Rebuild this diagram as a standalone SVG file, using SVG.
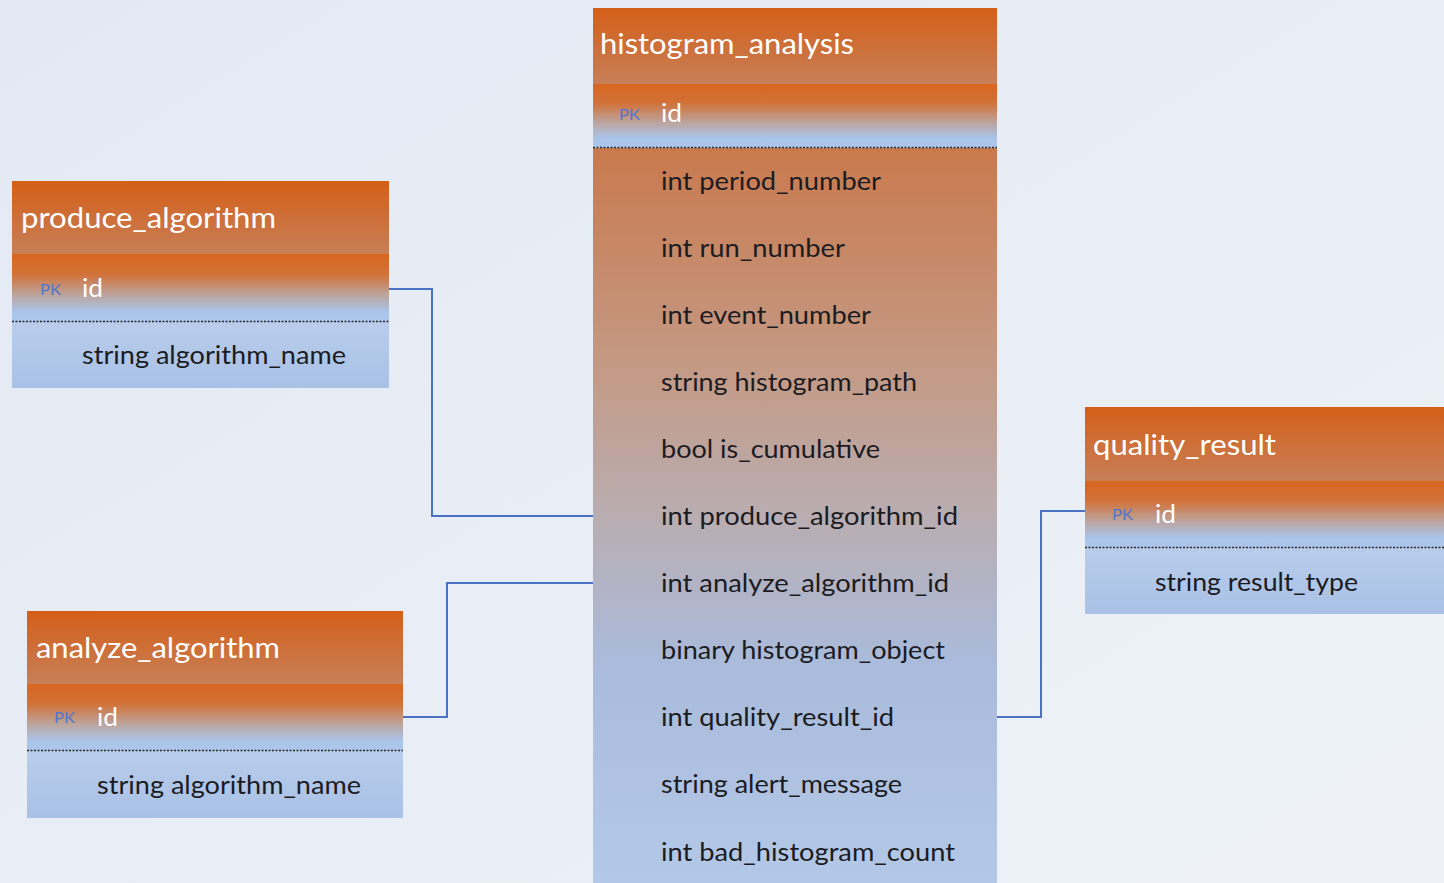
<svg xmlns="http://www.w3.org/2000/svg" width="1444" height="883" viewBox="0 0 1444 883">
  <defs>
    <linearGradient id="bg" x1="0" y1="0" x2="1" y2="1">
      <stop offset="0" stop-color="#e3e9f3"/>
      <stop offset="1" stop-color="#eef2f8"/>
    </linearGradient>
    <linearGradient id="head" x1="0" y1="0" x2="0" y2="1">
      <stop offset="0" stop-color="#d45f18"/>
      <stop offset="1" stop-color="#c77f58"/>
    </linearGradient>
    <linearGradient id="pk" x1="0" y1="0" x2="0" y2="1">
      <stop offset="0" stop-color="#d9661f"/>
      <stop offset="0.3" stop-color="#d17239"/>
      <stop offset="0.62" stop-color="#bba7a4"/>
      <stop offset="0.85" stop-color="#aac4ea"/>
      <stop offset="1" stop-color="#adc7ec"/>
    </linearGradient>
    <linearGradient id="rows" x1="0" y1="0" x2="0" y2="1">
      <stop offset="0" stop-color="#b9cdeb"/>
      <stop offset="1" stop-color="#a9c1e6"/>
    </linearGradient>
    <linearGradient id="mainBody" x1="0" y1="0" x2="0" y2="1">
      <stop offset="0" stop-color="#c9794d"/>
      <stop offset="0.3" stop-color="#c49a85"/>
      <stop offset="0.5" stop-color="#b9adb1"/>
      <stop offset="0.7" stop-color="#aabbdb"/>
      <stop offset="1" stop-color="#b3c8e7"/>
    </linearGradient>
    <style>
      .title { font-family: Lato, "Open Sans", "Liberation Sans", sans-serif; font-size: 29px; fill: #ffffff; }
      .pk { font-family: Lato, "Liberation Sans", sans-serif; font-size: 15px; fill: #4f76d0; }
      .id { font-family: Lato, "Liberation Sans", sans-serif; font-size: 25px; fill: #ffffff; }
      .field { font-family: Lato, "Open Sans", "Liberation Sans", sans-serif; font-size: 25px; fill: #1b1b22; }
      .sep { stroke: #2a2a2a; stroke-width: 1.5; stroke-dasharray: 2 1.5; }
      .link { fill: none; stroke: #4a72c4; stroke-width: 2; }
    </style>
  </defs>

  <rect width="1444" height="883" fill="url(#bg)"/>

  <!-- relationship lines -->
  <g id="connectors">
    <polyline class="link" points="389,289 432,289 432,516 593,516"/>
    <polyline class="link" points="403,717 447,717 447,583 593,583"/>
    <polyline class="link" points="997,717 1041,717 1041,511 1085,511"/>
  </g>

  <!-- main table -->
  <g id="histogram_analysis">
    <rect x="593" y="148" width="404" height="735" fill="url(#mainBody)"/>
    <rect x="593" y="8" width="404" height="76" fill="url(#head)"/>
    <rect x="593" y="84" width="404" height="64" fill="url(#pk)"/>
    <line class="sep" x1="593" y1="147.5" x2="997" y2="147.5"/>
    <text class="title" x="600" y="54" textLength="254" lengthAdjust="spacingAndGlyphs">histogram_analysis</text>
    <text class="pk" x="619" y="120" textLength="21" lengthAdjust="spacingAndGlyphs">PK</text>
    <text class="id" x="661" y="122" textLength="21" lengthAdjust="spacingAndGlyphs">id</text>
    <text class="field" x="661" y="190" textLength="220" lengthAdjust="spacingAndGlyphs">int period_number</text>
    <text class="field" x="661" y="257" textLength="184" lengthAdjust="spacingAndGlyphs">int run_number</text>
    <text class="field" x="661" y="324" textLength="210" lengthAdjust="spacingAndGlyphs">int event_number</text>
    <text class="field" x="661" y="391" textLength="256" lengthAdjust="spacingAndGlyphs">string histogram_path</text>
    <text class="field" x="661" y="458" textLength="219" lengthAdjust="spacingAndGlyphs">bool is_cumulative</text>
    <text class="field" x="661" y="525" textLength="297" lengthAdjust="spacingAndGlyphs">int produce_algorithm_id</text>
    <text class="field" x="661" y="592" textLength="288" lengthAdjust="spacingAndGlyphs">int analyze_algorithm_id</text>
    <text class="field" x="661" y="659" textLength="284" lengthAdjust="spacingAndGlyphs">binary histogram_object</text>
    <text class="field" x="661" y="726" textLength="233" lengthAdjust="spacingAndGlyphs">int quality_result_id</text>
    <text class="field" x="661" y="793" textLength="241" lengthAdjust="spacingAndGlyphs">string alert_message</text>
    <text class="field" x="661" y="861" textLength="294" lengthAdjust="spacingAndGlyphs">int bad_histogram_count</text>
  </g>

  <g id="produce_algorithm">
    <rect x="12" y="181" width="377" height="73" fill="url(#head)"/>
    <rect x="12" y="254" width="377" height="68" fill="url(#pk)"/>
    <rect x="12" y="322" width="377" height="66" fill="url(#rows)"/>
    <line class="sep" x1="12" y1="321.5" x2="389" y2="321.5"/>
    <text class="title" x="21" y="228" textLength="255" lengthAdjust="spacingAndGlyphs">produce_algorithm</text>
    <text class="pk" x="40" y="295" textLength="21" lengthAdjust="spacingAndGlyphs">PK</text>
    <text class="id" x="82" y="297" textLength="21" lengthAdjust="spacingAndGlyphs">id</text>
    <text class="field" x="82" y="364" textLength="264" lengthAdjust="spacingAndGlyphs">string algorithm_name</text>
  </g>

  <g id="analyze_algorithm">
    <rect x="27" y="611" width="376" height="73" fill="url(#head)"/>
    <rect x="27" y="684" width="376" height="67" fill="url(#pk)"/>
    <rect x="27" y="751" width="376" height="67" fill="url(#rows)"/>
    <line class="sep" x1="27" y1="750.5" x2="403" y2="750.5"/>
    <text class="title" x="36" y="658" textLength="244" lengthAdjust="spacingAndGlyphs">analyze_algorithm</text>
    <text class="pk" x="54" y="723" textLength="21" lengthAdjust="spacingAndGlyphs">PK</text>
    <text class="id" x="97" y="726" textLength="21" lengthAdjust="spacingAndGlyphs">id</text>
    <text class="field" x="97" y="794" textLength="264" lengthAdjust="spacingAndGlyphs">string algorithm_name</text>
  </g>

  <g id="quality_result">
    <rect x="1085" y="407" width="359" height="74" fill="url(#head)"/>
    <rect x="1085" y="481" width="359" height="67" fill="url(#pk)"/>
    <rect x="1085" y="548" width="359" height="66" fill="url(#rows)"/>
    <line class="sep" x1="1085" y1="547.5" x2="1444" y2="547.5"/>
    <text class="title" x="1093" y="455" textLength="183" lengthAdjust="spacingAndGlyphs">quality_result</text>
    <text class="pk" x="1112" y="520" textLength="21" lengthAdjust="spacingAndGlyphs">PK</text>
    <text class="id" x="1155" y="523" textLength="21" lengthAdjust="spacingAndGlyphs">id</text>
    <text class="field" x="1155" y="591" textLength="203" lengthAdjust="spacingAndGlyphs">string result_type</text>
  </g>
</svg>
